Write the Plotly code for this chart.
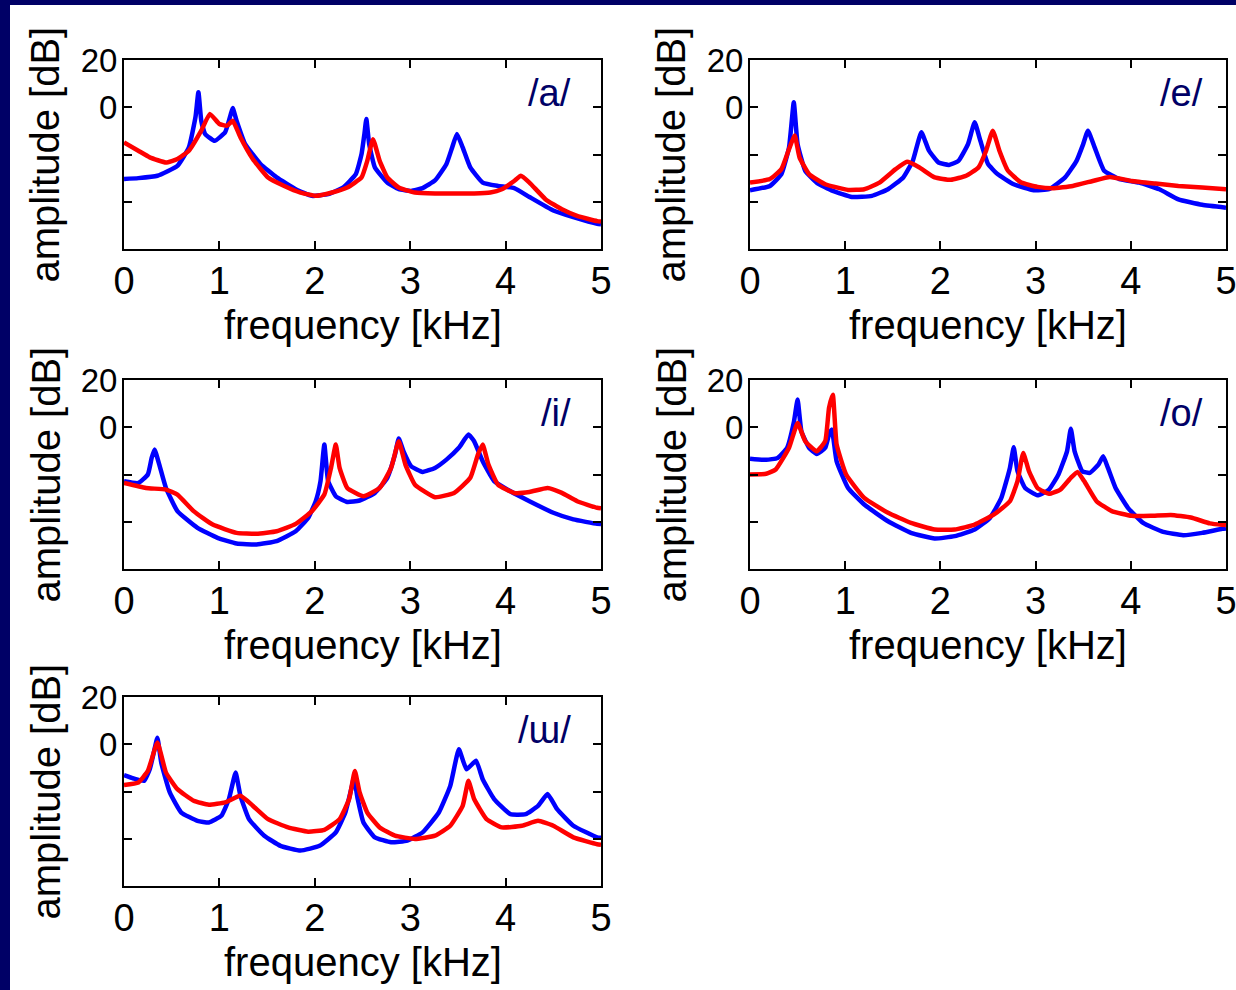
import plotly.graph_objects as go

# ---------------- data (frequency in kHz, amplitude in dB) ----------------
a_blue_f = [0, 0.15, 0.35, 0.56, 0.68, 0.75, 0.78, 0.81, 0.85, 0.95, 1.06, 1.12, 1.14, 1.18, 1.27, 1.43, 1.6, 1.8, 1.97, 2.14, 2.3, 2.43, 2.49, 2.52, 2.54, 2.57, 2.63, 2.76, 2.88, 3.01, 3.13, 3.26, 3.38, 3.44, 3.49, 3.55, 3.63, 3.76, 3.92, 4.09, 4.25, 4.5, 4.71, 4.96, 5.0]
a_blue_db = [-30.4, -30.0, -29, -24.8, -17, -4, 6.4, -5.7, -11.3, -14.2, -10.6, -2.8, -0.3, -5.7, -15.6, -24, -29.7, -34.7, -37.5, -36.8, -33.9, -28.3, -19.8, -11.3, -5, -15.6, -25.5, -31.9, -34.7, -35.4, -34.2, -31, -24, -17, -11.3, -17, -25.5, -31.9, -33.3, -34.2, -38, -43.7, -46.5, -49.3, -49.5]
a_red_f = [0, 0.15, 0.27, 0.44, 0.56, 0.68, 0.81, 0.9, 1.0, 1.08, 1.14, 1.22, 1.35, 1.51, 1.68, 1.85, 2.01, 2.18, 2.34, 2.49, 2.55, 2.61, 2.68, 2.76, 2.88, 3.05, 3.26, 3.46, 3.67, 3.84, 3.96, 4.09, 4.16, 4.25, 4.42, 4.59, 4.75, 4.96, 5.0]
a_red_db = [-14.9, -18.4, -21.2, -23.4, -21.9, -18.4, -9.9, -2.8, -7.1, -7.8, -5.7, -12.7, -21.9, -29.7, -33.3, -36.1, -37.5, -36.1, -34, -29.7, -22.7, -13.5, -22.7, -29.7, -34, -36.1, -36.5, -36.5, -36.5, -36.1, -34.7, -31.2, -29, -31.9, -39, -43.2, -46, -48.2, -48.4]

e_blue_f = [0, 0.21, 0.33, 0.41, 0.46, 0.5, 0.58, 0.7, 0.87, 1.07, 1.28, 1.45, 1.61, 1.71, 1.8, 1.88, 1.98, 2.09, 2.19, 2.29, 2.36, 2.42, 2.5, 2.6, 2.77, 2.98, 3.14, 3.31, 3.43, 3.5, 3.55, 3.62, 3.72, 3.88, 4.09, 4.3, 4.5, 4.75, 5.0]
e_blue_db = [-35.1, -33.3, -28.3, -17, 2.1, -15.6, -26.9, -31.9, -35.4, -38, -37.5, -34.7, -29.7, -22.7, -10.6, -18.4, -23.4, -24.4, -22.7, -15.6, -6.4, -14.2, -24, -28.3, -32.6, -35.1, -34.7, -29.7, -22.7, -15.6, -9.9, -17, -26.9, -30.4, -31.9, -34.7, -39, -41.3, -42.5]
e_red_f = [0, 0.21, 0.33, 0.41, 0.47, 0.52, 0.62, 0.79, 1.03, 1.2, 1.36, 1.53, 1.65, 1.78, 1.94, 2.11, 2.27, 2.4, 2.48, 2.55, 2.62, 2.71, 2.85, 3.02, 3.18, 3.39, 3.6, 3.78, 4.01, 4.26, 4.5, 4.75, 5.0]
e_red_db = [-31.9, -30.4, -26.2, -17.7, -12, -21.2, -28.3, -32.6, -35, -34.7, -31.9, -26.2, -23.1, -25.5, -29.7, -30.7, -29, -25.5, -18.4, -9.9, -18.4, -26.9, -31.9, -33.7, -34.3, -33.3, -31.2, -29.5, -31.2, -32.3, -33.3, -34, -34.7]

i_blue_f = [0, 0.15, 0.25, 0.29, 0.32, 0.37, 0.44, 0.56, 0.77, 0.98, 1.18, 1.39, 1.6, 1.8, 1.93, 2.01, 2.06, 2.1, 2.14, 2.22, 2.34, 2.47, 2.63, 2.76, 2.84, 2.88, 2.93, 3.01, 3.13, 3.26, 3.38, 3.51, 3.61, 3.67, 3.76, 3.88, 4.05, 4.25, 4.5, 4.71, 4.96, 5.0]
i_blue_db = [-22.8, -23.6, -20, -13, -9.4, -15.8, -25.7, -35.5, -42.6, -46.8, -49.2, -49.6, -48.2, -44, -38.4, -31.3, -22.8, -7.3, -22.8, -29.2, -31.6, -31, -27.8, -21.4, -11.6, -4.8, -10.2, -16.5, -18.9, -17.2, -13.7, -8.7, -3.1, -5.9, -14.4, -22.8, -27.1, -31.3, -36.2, -39, -40.9, -41]
i_red_f = [0, 0.23, 0.44, 0.56, 0.73, 0.93, 1.18, 1.39, 1.6, 1.8, 1.97, 2.1, 2.17, 2.22, 2.26, 2.34, 2.51, 2.68, 2.8, 2.88, 2.95, 3.05, 3.26, 3.46, 3.63, 3.71, 3.76, 3.82, 3.92, 4.09, 4.25, 4.44, 4.59, 4.75, 4.96, 5.0]
i_red_db = [-23.6, -25.7, -26.4, -28.5, -35.5, -41.2, -44.7, -45.1, -44, -40.9, -35.5, -28.5, -17.2, -7.3, -17.2, -25.7, -29.2, -25.7, -17.2, -5.9, -15.8, -24.3, -29.6, -27.8, -21.4, -11.6, -7.3, -15.8, -24.3, -27.8, -27.4, -25.7, -27.8, -31.3, -34.1, -34.3]

o_blue_f = [0, 0.17, 0.29, 0.39, 0.46, 0.5, 0.54, 0.62, 0.7, 0.79, 0.83, 0.86, 0.91, 1.03, 1.2, 1.45, 1.69, 1.94, 2.15, 2.36, 2.52, 2.64, 2.73, 2.77, 2.81, 2.89, 3.02, 3.14, 3.24, 3.33, 3.37, 3.41, 3.49, 3.57, 3.66, 3.71, 3.76, 3.84, 3.97, 4.13, 4.34, 4.55, 4.75, 4.96, 5.0]
o_blue_db = [-13.3, -13.8, -13, -8.7, 2, 11.7, -1.7, -8.7, -11.3, -8.7, -3.1, -1, -14.4, -25.7, -32.7, -39.8, -44.7, -47.1, -46.1, -43.3, -38.4, -29.9, -17.2, -8.5, -18.6, -25.7, -28.8, -26.4, -20, -10.2, -0.6, -10.2, -18.6, -19.3, -15.8, -12.3, -17.2, -25.7, -34.1, -40.5, -44.3, -45.7, -44.7, -43, -42.8]
o_red_f = [0, 0.17, 0.27, 0.41, 0.5, 0.58, 0.7, 0.79, 0.83, 0.87, 0.91, 1.01, 1.2, 1.45, 1.69, 1.94, 2.15, 2.36, 2.56, 2.73, 2.81, 2.87, 2.93, 3.02, 3.14, 3.26, 3.37, 3.44, 3.51, 3.64, 3.8, 4.01, 4.21, 4.42, 4.63, 4.83, 4.96, 5.0]
o_red_db = [-20, -19.7, -17.9, -8.7, 1.8, -5.9, -10.2, -5.9, 8.2, 13.8, -7.3, -20, -29.9, -36.2, -40.5, -43.3, -43.3, -41.2, -37, -31.3, -22.8, -10.9, -18.6, -25.7, -28.2, -26.4, -21.4, -18.9, -22.8, -31.3, -35.5, -37.5, -37.5, -37.1, -38.2, -40.7, -41.3, -41.4]

u_blue_f = [0, 0.1, 0.21, 0.27, 0.32, 0.35, 0.39, 0.48, 0.6, 0.77, 0.89, 1.02, 1.1, 1.17, 1.22, 1.31, 1.47, 1.64, 1.85, 2.05, 2.22, 2.32, 2.39, 2.41, 2.45, 2.51, 2.63, 2.8, 2.97, 3.13, 3.3, 3.42, 3.51, 3.59, 3.69, 3.76, 3.88, 4.05, 4.21, 4.34, 4.44, 4.54, 4.71, 4.96, 5.0]
u_blue_db = [-13.1, -14.5, -15.5, -10.6, -2.1, 2.8, -7.7, -20.4, -28.9, -32.4, -33.1, -30.3, -23.2, -12, -21.8, -31.7, -38.7, -43, -45, -43, -37.3, -28.9, -17.6, -14.1, -23.2, -33.1, -39.4, -41.5, -40.8, -37.3, -28.9, -17.6, -2.1, -10.6, -7, -14.8, -23.2, -29.6, -29.6, -26.1, -21.1, -27.5, -34.5, -39.4, -39.6]
u_red_f = [0, 0.15, 0.25, 0.35, 0.44, 0.56, 0.73, 0.89, 1.06, 1.22, 1.35, 1.51, 1.72, 1.93, 2.1, 2.26, 2.36, 2.42, 2.47, 2.55, 2.68, 2.84, 3.05, 3.26, 3.42, 3.55, 3.61, 3.67, 3.8, 3.96, 4.17, 4.34, 4.5, 4.71, 4.96, 5.0]
u_red_db = [-17.3, -16.2, -11.3, 0.7, -12, -19, -23.9, -25.6, -24.6, -21.8, -26, -31.7, -35.2, -37, -36.2, -31.7, -23.2, -11.3, -20.4, -28.9, -35.2, -38.7, -40.1, -38.7, -34.5, -26.1, -15.5, -23.2, -31.7, -35.2, -34.5, -32.4, -34.5, -39.4, -42.3, -42.5]

vowel_labels = ["/a/", "/e/", "/i/", "/o/", "/\u026f/"]
x_tickvals = [0, 1, 2, 3, 4, 5]
x_ticktext = ["0", "1", "2", "3", "4", "5"]
y_tickvals = [-60, -40, -20, 0, 20]
y_ticktext = ["", "", "", "0", "20"]
x_title = "frequency [kHz]"
y_title = "amplitude [dB]"

# ---------------- layout ----------------
W, H = 1236, 990
NAVY = "#000066"
FONT = "Liberation Sans, Arial, Helvetica, sans-serif"

series = [
    (a_blue_f, a_blue_db, a_red_f, a_red_db),
    (e_blue_f, e_blue_db, e_red_f, e_red_db),
    (i_blue_f, i_blue_db, i_red_f, i_red_db),
    (o_blue_f, o_blue_db, o_red_f, o_red_db),
    (u_blue_f, u_blue_db, u_red_f, u_red_db),
]

# pixel boxes (left, right, top, bottom)
boxes = [
    (124, 601, 60, 249),
    (750, 1226, 60, 249),
    (124, 601, 380, 569),
    (750, 1226, 380, 569),
    (124, 601, 697, 886),
]

fig = go.Figure()
layout = dict(
    width=W, height=H, autosize=False,
    margin=dict(l=0, r=0, t=0, b=0, pad=0, autoexpand=False),
    paper_bgcolor="white", plot_bgcolor="white",
    showlegend=False,
    font=dict(family=FONT, color="black"),
    shapes=[], annotations=[],
)

for k, ((bf, bd, rf, rd), (l, r, t, b)) in enumerate(zip(series, boxes)):
    n = k + 1
    xs = "x" if n == 1 else f"x{n}"
    ys = "y" if n == 1 else f"y{n}"
    fig.add_trace(go.Scatter(x=bf, y=bd, mode="lines", xaxis=xs, yaxis=ys,
                             line=dict(color="#0000FF", width=4.5, shape="spline", smoothing=0.4),
                             hoverinfo="skip"))
    fig.add_trace(go.Scatter(x=rf, y=rd, mode="lines", xaxis=xs, yaxis=ys,
                             line=dict(color="#FF0000", width=4.5, shape="spline", smoothing=0.4),
                             hoverinfo="skip"))
    xdom = [l / W, r / W]
    ydom = [1 - b / H, 1 - t / H]
    xkey = "xaxis" if n == 1 else f"xaxis{n}"
    ykey = "yaxis" if n == 1 else f"yaxis{n}"
    layout[xkey] = dict(
        domain=xdom, anchor=ys, range=[0, 5], tickvals=x_tickvals, ticktext=x_ticktext,
        ticks="inside", ticklen=8, tickwidth=2, tickcolor="black",
        showline=True, linecolor="black", linewidth=2, mirror="ticks",
        showgrid=False, zeroline=False, fixedrange=True, automargin=False,
        ticklabeloverflow="allow",
        tickfont=dict(family=FONT, size=38, color="black"),
        ticklabelstandoff=-3,
    )
    layout[ykey] = dict(
        domain=ydom, anchor=xs, range=[-60, 20], tickvals=y_tickvals, ticktext=y_ticktext,
        ticks="inside", ticklen=8, tickwidth=2, tickcolor="black",
        showline=True, linecolor="black", linewidth=2, mirror="ticks",
        showgrid=False, zeroline=False, fixedrange=True, automargin=False,
        ticklabeloverflow="allow",
        tickfont=dict(family=FONT, size=33, color="black"),
        ticklabelstandoff=-2,
    )
    cx = (l + r) / 2 / W
    cy = 1 - (t + b) / 2 / H
    layout["annotations"].append(dict(
        text=x_title, xref="paper", yref="paper", x=cx, y=1 - (b + 76) / H,
        xanchor="center", yanchor="middle", showarrow=False,
        font=dict(family=FONT, size=40, color="black")))
    layout["annotations"].append(dict(
        text=y_title, xref="paper", yref="paper", x=(l - 79) / W, y=cy,
        xanchor="center", yanchor="middle", showarrow=False, textangle=-90,
        font=dict(family=FONT, size=40, color="black")))
    rx = (r - 28) if l < 600 else (r - 21)
    layout["annotations"].append(dict(
        text=vowel_labels[k], xref="paper", yref="paper", x=rx / W, y=1 - (t + 33) / H,
        xanchor="right", yanchor="middle", showarrow=False,
        font=dict(family=FONT, size=38, color=NAVY)))

# navy slide frame (left and top edges)
layout["shapes"].append(dict(type="rect", xref="paper", yref="paper", x0=0, x1=10 / W, y0=0, y1=1,
                             fillcolor=NAVY, line=dict(width=0), layer="above"))
layout["shapes"].append(dict(type="rect", xref="paper", yref="paper", x0=0, x1=1, y0=1 - 5 / H, y1=1,
                             fillcolor=NAVY, line=dict(width=0), layer="above"))

fig.update_layout(**layout)
fig.write_html(
    "out.html",
    config={"displayModeBar": False, "staticPlot": True},
    post_script=(
        "document.body.style.margin='0px';"
        "document.body.style.padding='0px';"
        "document.body.style.overflow='hidden';"
        "document.documentElement.style.overflow='hidden';"
    ),
)
